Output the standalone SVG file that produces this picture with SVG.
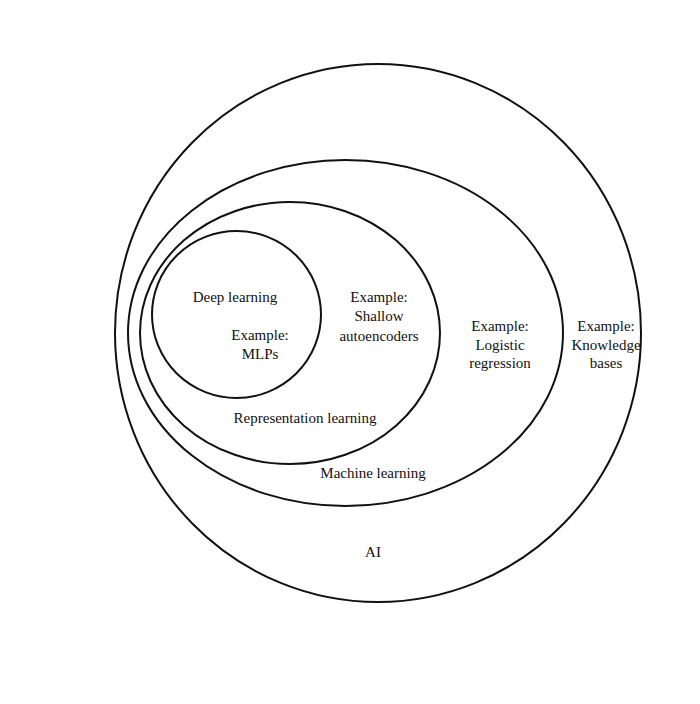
<svg xmlns="http://www.w3.org/2000/svg" width="700" height="704" viewBox="0 0 700 704">
<style>
.r{fill:none;stroke:#111;stroke-width:2}
text{font-family:"Liberation Serif","DejaVu Serif",serif;font-size:15px;fill:#111;text-anchor:middle}
</style>
<rect width="700" height="704" fill="#fff"/>
<g id="ai"><ellipse class="r" cx="378" cy="333" rx="263" ry="269"/><text x="373" y="557">AI</text>
<text x="606" y="331">Example:</text><text x="606" y="350">Knowledge</text><text x="606" y="368">bases</text></g>
<g id="ml"><ellipse class="r" cx="345.5" cy="333" rx="217.5" ry="173"/><text x="373" y="478">Machine learning</text>
<text x="500" y="331">Example:</text><text x="500" y="350">Logistic</text><text x="500" y="368">regression</text></g>
<g id="rl"><ellipse class="r" cx="290" cy="333" rx="150" ry="131"/><text x="305" y="423">Representation learning</text>
<text x="379" y="302">Example:</text><text x="379" y="321">Shallow</text><text x="379" y="341">autoencoders</text></g>
<g id="dl"><ellipse class="r" cx="236.5" cy="314.5" rx="84.5" ry="83.5"/><text x="235" y="302">Deep learning</text>
<text x="260" y="340">Example:</text><text x="260" y="359">MLPs</text></g>
</svg>
